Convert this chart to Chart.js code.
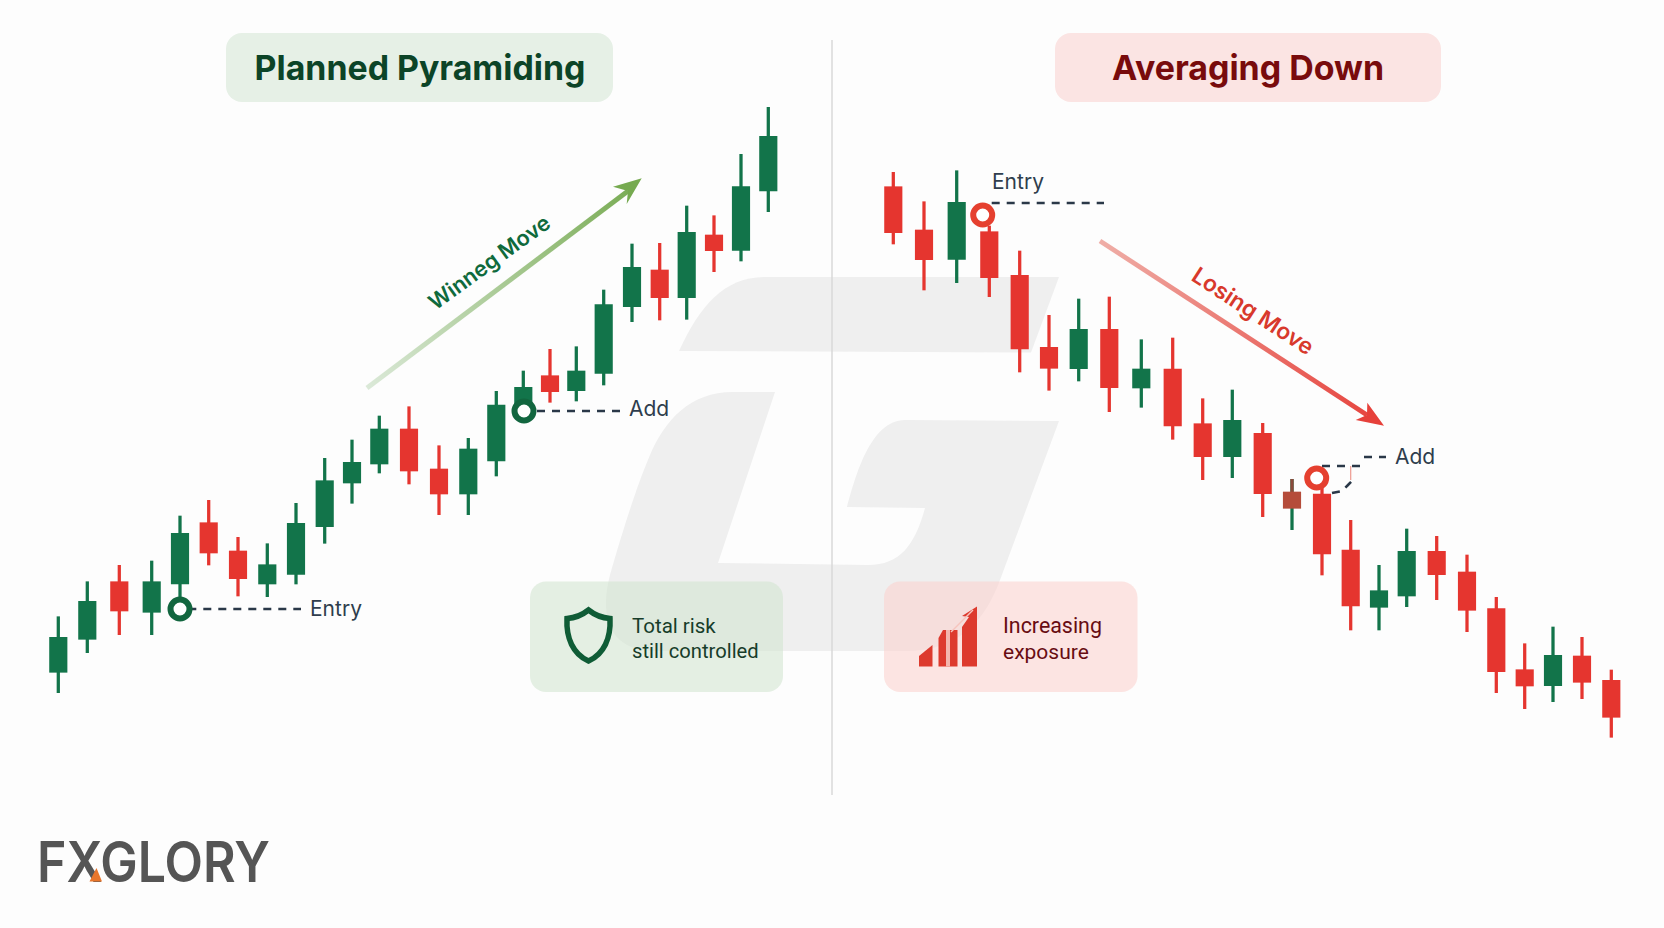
<!DOCTYPE html>
<html><head><meta charset="utf-8">
<style>
html,body{margin:0;padding:0;background:#fdfdfd;width:1664px;height:928px;overflow:hidden}
#bg,#c{position:absolute;left:0;top:0}
text{font-family:Roboto,"Noto Sans",sans-serif}
.i{font-family:Inter,Roboto,sans-serif}
</style>
<script src="https://cdn.jsdelivr.net/npm/chart.js@4"></script>
</head><body>
<svg id="bg" width="1664" height="928" viewBox="0 0 1664 928">
  <path d="M679 351 C700 305 725 277 765 277 L1059 277 L1031 352.5 Z" fill="#efefef"/>
  <path d="M775 392 L733 392 C690 392 665 420 650 455 C635 490 620 540 610 575 C600 612 606 651 655 651 L905 651 C960 651 985 620 1000 580 L1059 421 L905 420 C870 420 855 478 847 507 L925 508 C915 545 900 565 868 565 L718 563 Z" fill="#efefef"/>
  <line x1="832" y1="40" x2="832" y2="795" stroke="#d8d8d8" stroke-width="1.5"/>
  <rect x="226" y="33" width="387" height="69" rx="16" fill="#e6f0e6"/>
  <rect x="1055" y="33" width="386" height="69" rx="16" fill="#fbe4e3"/>
  <text class="i" x="420" y="80" font-size="34.3" font-weight="700" fill="#0c4427" text-anchor="middle" textLength="331" lengthAdjust="spacingAndGlyphs">Planned Pyramiding</text>
  <text class="i" x="1248" y="80" font-size="34.3" font-weight="700" fill="#780b0c" text-anchor="middle" textLength="272" lengthAdjust="spacingAndGlyphs">Averaging Down</text>
  <rect x="530" y="581.5" width="253" height="110.5" rx="16" fill="#d3e6d1" fill-opacity=".58"/>
  <rect x="884" y="581.5" width="253.5" height="110.5" rx="16" fill="#fbcfcc" fill-opacity=".55"/>
  <path d="M588.5 610 C596 616 603 618 610 618.5 C611 638 604 654 588.5 661 C573 654 566 638 567 618.5 C574 618 581 616 588.5 610 Z" fill="none" stroke="#0f5c36" stroke-width="5.5" stroke-linejoin="miter"/>
  <text x="632" y="633" font-size="20.5" fill="#173d2a">Total risk</text>
  <text x="632" y="658" font-size="20.2" fill="#173d2a">still controlled</text>
  <g fill="#dd3a2e">
    <path d="M919 666.5 L919 656 L932.5 645 L932.5 666.5 Z"/>
    <path d="M938.5 666.5 L938.5 638 L943 630 L957.5 630 L957.5 666.5 Z"/>
    <path d="M962 666.5 L962 627 L969 617 L962 616 L977 606.5 L977 666.5 Z"/>
  </g>
  <path d="M948 630 L948 666.5" stroke="#f3b6ae" stroke-width="4"/>
  <path d="M951 632 L973 610" stroke="#f6c4bd" stroke-width="1.5"/>
  <text x="1003" y="633" font-size="21.4" fill="#680c12">Increasing</text>
  <text x="1003" y="659" font-size="21" fill="#680c12">exposure</text>
  <text class="i" x="310" y="616" font-size="21" fill="#2f3d4d">Entry</text>
  <text class="i" x="629" y="416" font-size="21" fill="#2f3d4d">Add</text>
  <text class="i" x="992" y="189" font-size="21" fill="#2f3d4d">Entry</text>
  <text class="i" x="1395" y="463.5" font-size="21" fill="#2f3d4d">Add</text>
  <text class="i" transform="translate(489 262) rotate(-36)" y="8" font-size="21.7" font-weight="600" fill="#0f6a3c" text-anchor="middle">Winneg Move</text>
  <text class="i" transform="translate(1253 311) rotate(33)" y="8" font-size="22.8" font-weight="600" fill="#d8392c" text-anchor="middle">Losing Move</text>
  <text class="i" x="37" y="881.5" font-size="56" font-weight="600" fill="#555555" textLength="233" lengthAdjust="spacingAndGlyphs">FXGLORY</text>
  <path d="M89.5 881.5 L96.5 868 L102 881.5 Z" fill="#e8762b"/>
</svg>
<canvas id="c" width="1664" height="928"></canvas>
<script>
// Time positions and OHLC prices
const leftSessions = [58.3,87.3,119.3,151.7,180,208.7,238,267.3,296,324.7,352,379.3,409,439,468.3,496.3,523.3,550,576.3,603.7,632,659.7,686.7,714,741,768.3];
const leftOpen  = [255.7,288.7,346.3,315.7,344,405.3,377,344,353.7,401.3,445,464,499,459,434,467,518,552.3,537.3,554.7,621.3,658,630.3,693,677.7,737];
const leftHigh  = [311.3,346.3,362.7,367,412,427.7,390.7,384.3,424.7,469.7,488,512,521.3,482.3,489.7,536.7,557,578.7,581.3,638,684,684.7,722,712.3,773.7,820.7];
const leftLow   = [235.3,275.3,293.3,293.3,328,363,332,331.3,344,384.7,424.7,455,444,413.3,413.3,452,508,525.7,527,543,606.3,608,608.7,656.3,667,716.3];
const leftClose = [290.7,326.7,317,346.3,394.7,375,349.3,363.3,404.7,447.3,465.7,499,457,434,479,523,540.7,536.3,557,623.3,660.7,630.3,695.7,677.3,741.3,791.7];

const rightSessions = [893.3,924,956.7,989.3,1019.7,1049,1078.7,1109.3,1141.3,1172.7,1202.7,1232.3,1262.7,1292,1322,1350.7,1379,1406.7,1436.7,1467,1496.3,1524.7,1553,1582,1611.3];
const rightOpen  = [741.3,698,668.7,696.3,652.7,580.7,559.3,598.7,540,559,504.3,471.3,494.7,436,434,378,320.7,332,376.7,356,319.3,258.3,242.3,272,247.7];
const rightHigh  = [755.7,726.3,757.3,702,677,612.7,629,631,588.3,590,529.3,538,504.7,448.7,441,407.7,362.7,399,391.7,373,330.7,284.3,301,290.7,258];
const rightLow   = [684,638,645.3,631.3,556,537.7,547,516.3,520.7,488.7,448.3,450.3,411.3,398.3,353,298,298,321.3,328.3,296.3,235.3,219.3,226.3,229.3,190.7];
const rightClose = [695.3,668.3,725.7,650.3,579,559.7,598.7,540.3,559,502,471.3,507.7,434.3,419.7,374,322,337.3,376.7,353.3,317.7,256.3,242,272.7,245.7,210.7];
const mutedIndex = 13; // the brown-bodied candle on the right

// Marked levels [session, price]
const winRings  = [[180,319],[524,517]];
const lossRings = [[982.7,713],[1316.7,450]];
const dashLevels = [
  [[188.3,319],[301,319]],
  [[537,517],[620,517]],
  [[991.7,725],[1104,725]],
  [[1322,462],[1362,462]],
  [[1364,471],[1386,471]],
  [[1332,435],[1342,437],[1348,443],[1353,448]]
];
const thinMark = [[1350.7,462],[1350.7,448]];
const winArrow  = {from:[367,540],to:[641.7,749.7],barbA:[613,741.3],barbB:[626.7,724],notch:[628,737],c0:'#dbe9d8',c1:'#76aa50'};
const lossArrow = {from:[1100,687],to:[1384,502.3],barbA:[1367.3,525.3],barbB:[1355.7,508],notch:[1367,513],c0:'#efaea7',c1:'#e6403a'};

const GREEN='#12744a', RED='#e5352f', MUTED='#b54c3a';
const wickData=(s,h,l)=>s.map((x,i)=>({x,y:[l[i],h[i]]}));
const bodyData=(s,o,c)=>s.map((x,i)=>({x,y:[o[i],c[i]]}));
const dirColors=(o,c)=>o.map((v,i)=>c[i]>=v?GREEN:RED);
const rightBodyColors=dirColors(rightOpen,rightClose); rightBodyColors[mutedIndex]=MUTED;
const rightWickColors=dirColors(rightOpen,rightClose); rightWickColors[mutedIndex]=GREEN;
const pts=a=>a.map(p=>({x:p[0],y:p[1]}));
const bar=(data,color,thick,order)=>({type:'bar',data,backgroundColor:color,barThickness:thick,grouped:false,order,borderWidth:0});
const ring=(data,color)=>({type:'line',data:pts(data),showLine:false,pointRadius:9.5,pointHoverRadius:9.5,pointBackgroundColor:'#ffffff',pointBorderColor:color,pointBorderWidth:6,order:0});
const dash=d=>({type:'line',data:pts(d),borderColor:'#2a3848',borderWidth:2.6,borderDash:[8,7],pointRadius:0,tension:0,fill:false,order:1});

const arrowPlugin={id:'arrows',afterDatasetsDraw(chart){
  const {ctx,scales:{x,y}}=chart, P=p=>[x.getPixelForValue(p[0]),y.getPixelForValue(p[1])];
  for(const a of [winArrow,lossArrow]){
    const f=P(a.from),t=P(a.to),A=P(a.barbA),B=P(a.barbB),N=P(a.notch);
    const g=ctx.createLinearGradient(f[0],f[1],t[0],t[1]);g.addColorStop(0,a.c0);g.addColorStop(1,a.c1);
    ctx.save();ctx.strokeStyle=g;ctx.lineWidth=4.8;ctx.beginPath();ctx.moveTo(f[0],f[1]);ctx.lineTo(N[0],N[1]);ctx.stroke();
    ctx.fillStyle=a.c1;ctx.beginPath();ctx.moveTo(t[0],t[1]);ctx.lineTo(A[0],A[1]);ctx.lineTo(N[0],N[1]);ctx.lineTo(B[0],B[1]);ctx.closePath();ctx.fill();ctx.restore();
  }
}};

new Chart(document.getElementById('c'),{
  type:'bar',
  data:{datasets:[
    ring(winRings,'#12663f'),
    ring(lossRings,'#e5402f'),
    ...dashLevels.map(dash),
    bar(bodyData(leftSessions,leftOpen,leftClose),dirColors(leftOpen,leftClose),17.5,2),
    bar(bodyData(rightSessions,rightOpen,rightClose),rightBodyColors,17.5,2),
    bar([{x:rightSessions[mutedIndex],y:[rightOpen[mutedIndex],rightHigh[mutedIndex]]}],'#8a4a3a',2.6,3),
    bar(wickData(leftSessions,leftHigh,leftLow),dirColors(leftOpen,leftClose),2.6,4),
    bar(wickData(rightSessions,rightHigh,rightLow),rightWickColors,2.6,4),
    {type:'line',data:pts(thinMark),borderColor:'#ee9a90',borderWidth:1.2,pointRadius:0,order:5}
  ]},
  options:{
    responsive:false,animation:false,devicePixelRatio:1,
    layout:{padding:0,autoPadding:false},
    plugins:{legend:{display:false},tooltip:{enabled:false},title:{display:false}},
    scales:{
      x:{type:'linear',min:0,max:1664,offset:false,display:false},
      y:{type:'linear',min:0,max:928,display:false}
    }
  },
  plugins:[arrowPlugin]
});
</script>
</body></html>
